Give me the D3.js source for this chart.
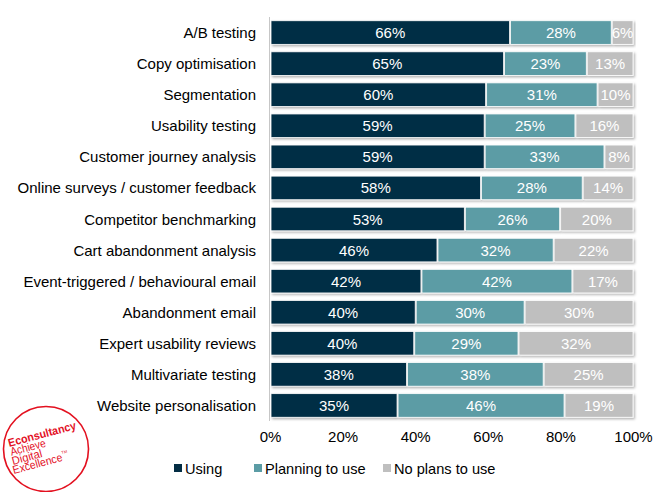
<!DOCTYPE html>
<html><head><meta charset="utf-8">
<script src="https://cdn.jsdelivr.net/npm/d3@7"></script>
<style>body{margin:0;background:#fff;} svg{display:block;font-family:"Liberation Sans",Arial,sans-serif;}</style>
</head><body>
<svg id="c" width="671" height="492"></svg>
<script>
const categories = ["A/B testing","Copy optimisation","Segmentation","Usability testing","Customer journey analysis","Online surveys / customer feedback","Competitor benchmarking","Cart abandonment analysis","Event-triggered / behavioural email","Abandonment email","Expert usability reviews","Multivariate testing","Website personalisation"];
const using    = [66,65,60,59,59,58,53,46,42,40,40,38,35];
const planning = [28,23,31,25,33,28,26,32,42,30,29,38,46];
const noPlans  = [6,13,10,16,8,14,20,22,17,30,32,25,19];
const seriesNames = ["Using","Planning to use","No plans to use"];
const tickValues = [0,20,40,60,80,100];
const colors = ["#032d44","#5b9ca5","#bfbfbf"];

const svg = d3.select("#c");
const defs = svg.append("defs");
const f = defs.append("filter").attr("id","sh").attr("x","-5%").attr("y","-20%").attr("width","115%").attr("height","160%");
f.append("feDropShadow").attr("dx",1.5).attr("dy",1.5).attr("stdDeviation",0.8).attr("flood-color","#000").attr("flood-opacity",0.3);

const x = d3.scaleLinear().domain([0,100]).range([270,633]);
const y = d3.scaleBand().domain(categories).range([17,421]).paddingInner(0.24).paddingOuter(0.12);

const rows = categories.map((c,i)=>{
  const vals=[using[i],planning[i],noPlans[i]];
  const tot=d3.sum(vals);
  let acc=0;
  return vals.map((v,k)=>{const s=acc/tot*100; acc+=v; return {cat:c,k,v,x0:s,x1:acc/tot*100};});
});

// left axis line
svg.append("line").attr("x1",269.5).attr("x2",269.5).attr("y1",17).attr("y2",421).attr("stroke","#c8c8c8").attr("stroke-width",1);

const g = svg.append("g");
rows.forEach(r=>{
  const rg = g.append("g");
  rg.selectAll("rect").data(r).join("rect")
    .attr("x",d=>x(d.x0)+1).attr("width",d=>x(d.x1)-x(d.x0)-1)
    .attr("y",d=>y(d.cat)).attr("height",y.bandwidth())
    .attr("fill",d=>colors[d.k]).attr("stroke","#fff").attr("stroke-width",0.8)
    .attr("filter","url(#sh)");
  rg.selectAll("text").data(r).join("text")
    .attr("x",d=>(x(d.x0)+x(d.x1))/2+0.5).attr("y",d=>y(d.cat)+y.bandwidth()/2+5.5)
    .attr("text-anchor","middle").attr("fill","#fff").attr("font-size",15)
    .text(d=>d.v+"%");
});

// category labels
svg.append("g").selectAll("text").data(categories).join("text")
  .attr("x",256).attr("y",d=>y(d)+y.bandwidth()/2+5.5)
  .attr("text-anchor","end").attr("font-size",15).attr("fill","#000").text(d=>d);

// x tick labels
const xa = d3.axisBottom(x).tickValues(tickValues).tickSize(0).tickPadding(0).tickFormat(d=>d+"%");
const ax = svg.append("g").attr("transform","translate(0,431)").call(xa);
ax.select(".domain").remove();
ax.selectAll("text").attr("font-size",15).attr("fill","#000").attr("font-family","Liberation Sans, Arial, sans-serif");

// legend
const legX=[174,254,383];
const lg = svg.append("g");
seriesNames.forEach((n,i)=>{
  lg.append("rect").attr("x",legX[i]).attr("y",464).attr("width",8).attr("height",8).attr("fill",colors[i]);
  lg.append("text").attr("x",legX[i]+11).attr("y",474).attr("font-size",14.6).attr("fill","#000").text(n);
});

// logo
const red="#e3101f";
const logo = svg.append("g").attr("transform","translate(46,449)");
logo.append("circle").attr("r",42.5).attr("fill","none").attr("stroke",red).attr("stroke-width",1.6);
const lt = logo.append("g").attr("transform","rotate(-15)");
lt.append("text").attr("x",-35).attr("y",-11.5).attr("font-size",11.5).attr("font-weight","bold").attr("fill",red)
  .attr("textLength",70).attr("lengthAdjust","spacingAndGlyphs").text("Econsultancy");
[["Achieve",-35,-2.3,36],["Digital",-36,6.8,31],["Excellence",-37.5,15.8,51]].forEach(([t,xx,yy,len])=>{
  lt.append("text").attr("x",xx).attr("y",yy).attr("font-size",11.5).attr("fill",red)
    .attr("textLength",len).attr("lengthAdjust","spacingAndGlyphs").text(t);
});
lt.append("text").attr("x",14).attr("y",9).attr("font-size",4).attr("fill",red).text("TM");
</script>
</body></html>
